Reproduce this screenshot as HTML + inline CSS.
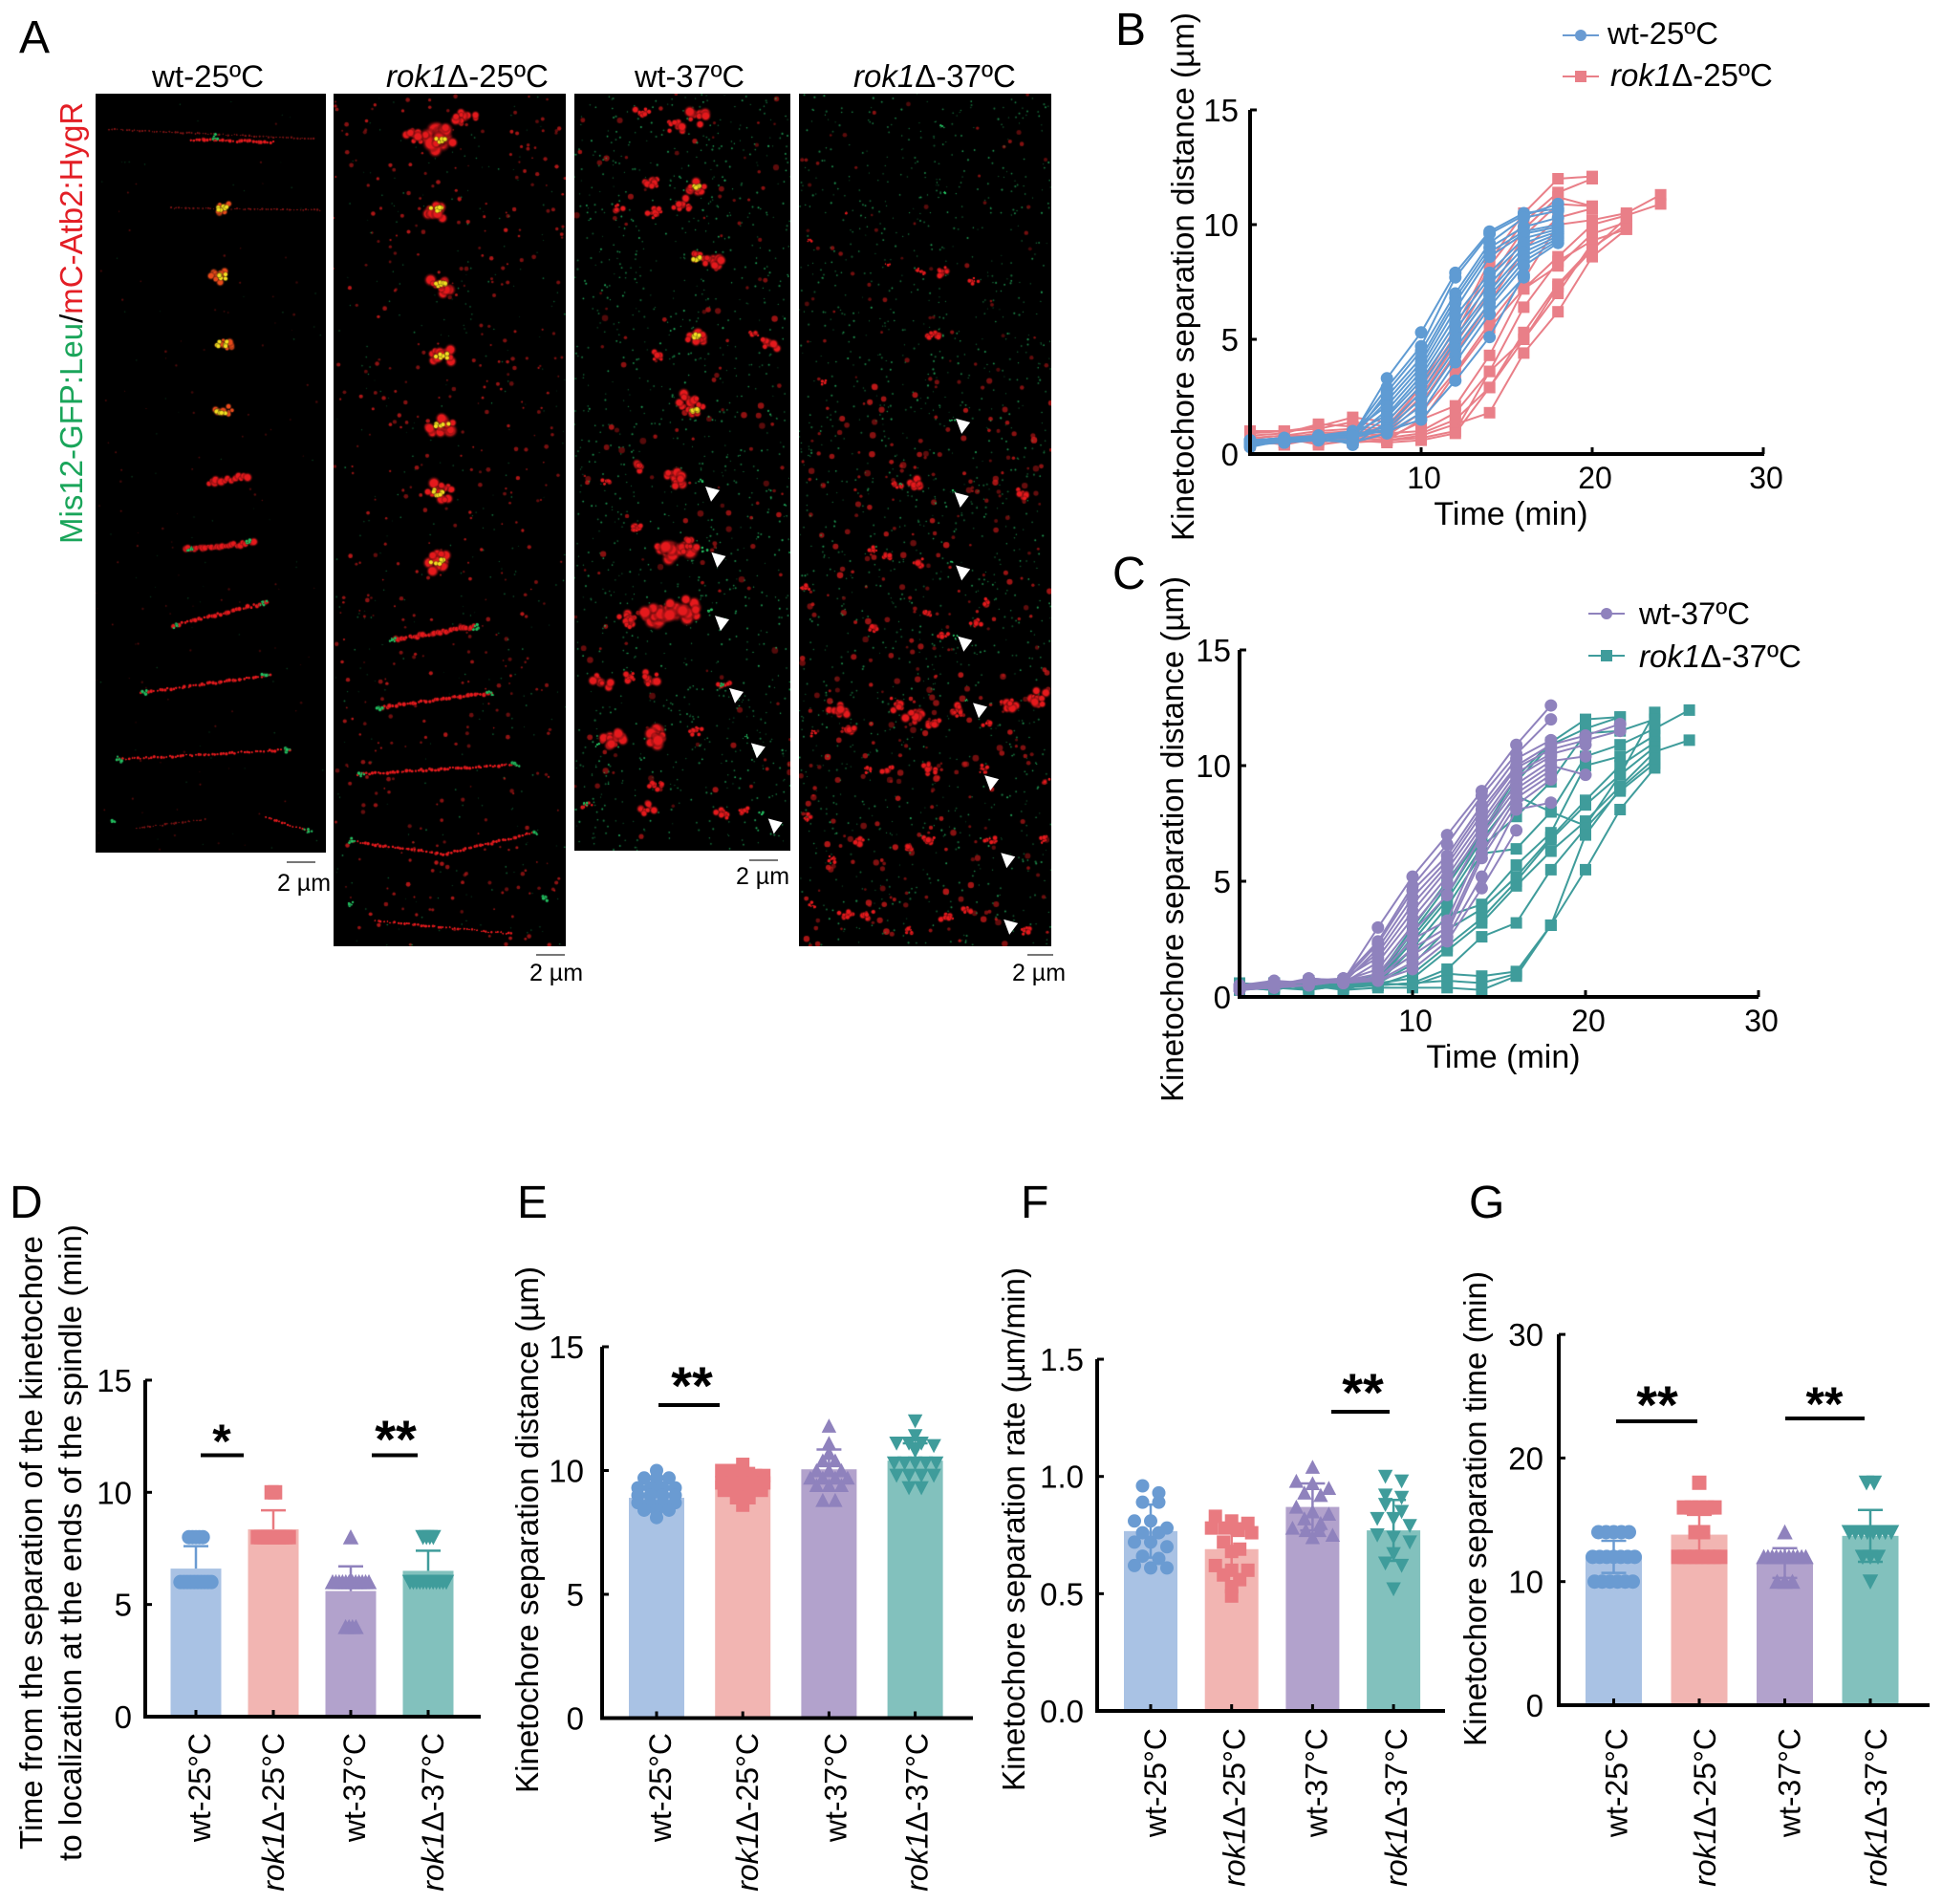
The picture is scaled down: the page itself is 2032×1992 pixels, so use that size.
<!DOCTYPE html>
<html lang="en">
<head>
<meta charset="utf-8">
<title>Kinetochore separation figure</title>
<style>
html,body{margin:0;padding:0;background:#fff;}
#figure{position:relative;width:2032px;height:1992px;overflow:hidden;background:#fff;font-family:"Liberation Sans",sans-serif;}
canvas{position:absolute;display:block;background:#000;}
#overlay{position:absolute;left:0;top:0;}
#overlay text{font-family:"Liberation Sans",sans-serif;fill:#000;}
.it{font-style:italic;}
</style>
</head>
<body>
<div id="figure">
<canvas id="img1" width="241" height="794" style="left:100px;top:98px"></canvas>
<canvas id="img2" width="243" height="892" style="left:349px;top:98px"></canvas>
<canvas id="img3" width="226" height="792" style="left:601px;top:98px"></canvas>
<canvas id="img4" width="264" height="892" style="left:836px;top:98px"></canvas>
<svg id="overlay" width="2032" height="1992" viewBox="0 0 2032 1992" xmlns="http://www.w3.org/2000/svg">
  <!-- panel letters -->
  <g font-size="48">
    <text x="20" y="55">A</text>
    <text x="1167" y="47">B</text>
    <text x="1164" y="616">C</text>
    <text x="10" y="1274">D</text>
    <text x="541" y="1274">E</text>
    <text x="1068" y="1274">F</text>
    <text x="1537" y="1274">G</text>
  </g>
  <!-- panel A titles -->
  <g font-size="32">
    <text x="159" y="91" textLength="117" lengthAdjust="spacingAndGlyphs">wt-25ºC</text>
    <text x="404" y="91" font-size="33"><tspan class="it">rok1</tspan>Δ-25ºC</text>
    <text x="664" y="91" textLength="115" lengthAdjust="spacingAndGlyphs">wt-37ºC</text>
    <text x="893" y="91" font-size="33"><tspan class="it">rok1</tspan>Δ-37ºC</text>
    <text transform="translate(86,569) rotate(-90)" font-size="33"><tspan style="fill:#1aa55a">Mis12-GFP:Leu</tspan><tspan style="fill:#000">/</tspan><tspan style="fill:#e31e25">mC-Atb2:HygR</tspan></text>
  </g>
  <!-- scale bars -->
  <g stroke="#777" stroke-width="2">
    <line x1="300" x2="330" y1="902" y2="902"/>
    <line x1="561" x2="591" y1="999" y2="999"/>
    <line x1="784" x2="814" y1="900" y2="900"/>
    <line x1="1075" x2="1102" y1="999" y2="999"/>
  </g>
  <g font-size="25" text-anchor="middle">
    <text x="318" y="932">2 µm</text>
    <text x="582" y="1026">2 µm</text>
    <text x="798" y="925">2 µm</text>
    <text x="1087" y="1026">2 µm</text>
  </g>
  <g id="arrowheads"></g>

  <!-- titles -->
  <g font-size="33">
    <text transform="translate(1249,566) rotate(-90)" textLength="553" lengthAdjust="spacingAndGlyphs">Kinetochore separation distance (µm)</text>
    <text x="1581" y="549" text-anchor="middle" font-size="34">Time (min)</text>
    <text transform="translate(1238,1153) rotate(-90)" textLength="550" lengthAdjust="spacingAndGlyphs">Kinetochore separation distance (µm)</text>
    <text x="1573" y="1117" text-anchor="middle" font-size="34">Time (min)</text>
    <text transform="translate(44,1935) rotate(-90)" textLength="642" lengthAdjust="spacingAndGlyphs">Time from the separation of the kinetochore</text>
    <text transform="translate(85,1947) rotate(-90)" textLength="666" lengthAdjust="spacingAndGlyphs">to localization at the ends of the spindle (min)</text>
    <text transform="translate(563,1876) rotate(-90)" textLength="551" lengthAdjust="spacingAndGlyphs">Kinetochore separation distance (µm)</text>
    <text transform="translate(1072,1874) rotate(-90)" textLength="548" lengthAdjust="spacingAndGlyphs">Kinetochore separation rate (µm/min)</text>
    <text transform="translate(1555,1827) rotate(-90)" textLength="497" lengthAdjust="spacingAndGlyphs">Kinetochore separation time (min)</text>
  </g>

  <!-- legends -->
  <g>
    <g>
      <line x1="1635" x2="1673" y1="37" y2="37" stroke="#6a9bd2" stroke-width="2"/><circle cx="1654" cy="37" r="6" fill="#6a9bd2"/>
      <text x="1682" y="46" font-size="32" textLength="116" lengthAdjust="spacingAndGlyphs">wt-25ºC</text>
    </g>
    <g>
      <line x1="1635" x2="1673" y1="80" y2="80" stroke="#e97f88" stroke-width="2"/><rect x="1648" y="74" width="12" height="12" fill="#e97f88"/>
      <text x="1685" y="90" font-size="33"><tspan class="it">rok1</tspan>Δ-25ºC</text>
    </g>
  </g>
  <g>
    <g>
      <line x1="1662" x2="1700" y1="642" y2="642" stroke="#8f82bd" stroke-width="2"/><circle cx="1681" cy="642" r="6" fill="#8f82bd"/>
      <text x="1715" y="653" font-size="32" textLength="116" lengthAdjust="spacingAndGlyphs">wt-37ºC</text>
    </g>
    <g>
      <line x1="1662" x2="1700" y1="686" y2="686" stroke="#3f9c9b" stroke-width="2"/><rect x="1675" y="680" width="12" height="12" fill="#3f9c9b"/>
      <text x="1715" y="698" font-size="33"><tspan class="it">rok1</tspan>Δ-37ºC</text>
    </g>
  </g>

  <!-- significance markers -->
  <g fill="#000">
    <rect x="210" y="1520.5" width="45" height="4"/>
    <rect x="389" y="1520.5" width="48" height="4"/>
    <rect x="689" y="1468" width="64" height="4"/>
    <rect x="1393" y="1475" width="61" height="4"/>
    <rect x="1691" y="1485" width="85" height="4"/>
    <rect x="1868" y="1482" width="83" height="4"/>
  </g>
  <g font-weight="bold" font-size="56" text-anchor="middle">
    <text x="232" y="1525" font-size="50">*</text>
    <text x="414" y="1525">**</text>
    <text x="724" y="1469">**</text>
    <text x="1426" y="1476">**</text>
    <text x="1734" y="1489">**</text>
    <text x="1909" y="1486" font-size="50">**</text>
  </g>
  <g id="charts"></g>
</svg>
</div>
<script>
/* ---------- chart data ---------- */
const timePoints = [0,2,4,6,8,10,12,14,16,18,20,22,24,26];
const timeTickLabels = [10,20,30];
const lineChartValueTicks = [0,5,10,15];

const wt25Traces = [
 [.5,.6,.7,.8,3.3,5.3,7.9,9.7,10.5,10.7],
 [.4,.6,.8,.9,2.9,4.7,7.7,9.6,10.4,10.9],
 [.6,.7,.7,.7,2.7,4.5,7.0,9.2,10.3,10.6],
 [.5,.5,.6,.9,2.5,4.2,6.8,9.0,9.9,10.3],
 [.4,.7,.7,.8,2.3,4.0,6.6,8.8,9.7,10.0],
 [.6,.6,.8,1.0,2.1,3.8,6.3,8.6,9.6,9.9],
 [.5,.5,.7,.7,1.9,3.6,6.0,7.9,9.4,9.8],
 [.3,.6,.7,.9,1.7,3.4,5.7,7.7,9.2,9.7],
 [.5,.7,.6,.6,1.6,3.2,5.4,7.4,9.0,9.6],
 [.6,.6,.8,.4,1.4,3.0,5.1,7.1,8.8,9.5],
 [.4,.5,.7,.8,1.2,2.7,4.9,6.9,8.6,9.4],
 [.5,.6,.7,.7,1.1,2.4,4.6,6.6,8.4,9.3],
 [.6,.7,.8,.9,1.0,2.1,4.3,6.4,8.2,9.2],
 [.4,.6,.6,.5,.9,1.8,4.0,6.1,7.7],
 [.5,.5,.7,.8,1.0,1.5,3.2,5.1,7.8]
];
const rok25Traces = [
 [1.0,1.0,1.2,1.6,1.4,3.0,5.5,8.4,10.5,12.0,12.1],
 [.9,1.0,1.1,1.4,1.2,2.9,5.2,8.2,10.1,11.4,12.0],
 [.8,.9,1.3,1.2,1.1,2.7,5.0,7.6,9.8,11.2,10.8],
 [.7,.8,1.0,1.1,1.0,2.5,4.8,7.0,9.5,10.9,10.8],
 [.6,.7,.9,1.0,.9,2.2,4.4,6.6,8.9,10.3,10.7],
 [.5,.6,.7,.9,.8,1.8,3.6,5.7,7.6,10.0,10.2,10.5,11.3],
 [.4,.5,.6,.8,.7,1.4,3.5,5.5,7.2,8.6,10.0,10.4,10.9],
 [.8,.4,.7,.7,.6,1.5,2.1,4.3,7.2,8.2,9.6,10.1],
 [.6,.7,.4,.6,.9,1.0,1.8,3.6,6.4,8.4,9.3,9.8],
 [.5,.5,.6,.8,.7,.9,1.5,2.9,5.3,7.4,9.0,10.0],
 [.7,.8,.8,.5,.6,.8,1.3,1.8,4.4,6.2,8.6,9.8],
 [.4,.6,.5,.7,.6,.7,1.0,3.6,5.0,7.0,9.2],
 [.6,.4,.9,.6,.5,.6,.9,2.9,5.0,7.3,8.9,10.3]
];
const wt37Traces = [
 [.4,.5,.8,.7,3.0,5.2,7.0,8.9,10.9,12.6],
 [.3,.6,.7,.8,2.4,4.8,6.6,8.7,10.5,12.0],
 [.5,.6,.6,.7,2.3,4.6,6.1,8.3,10.3,11.1],
 [.4,.4,.7,.6,2.1,4.3,5.9,8.1,10.0,10.9,11.3,11.8],
 [.3,.5,.5,.7,1.9,4.0,5.7,7.9,9.9,10.7,11.1,11.5],
 [.4,.6,.6,.8,1.7,3.7,5.5,7.6,9.7,10.5,10.9],
 [.5,.5,.7,.6,1.5,3.4,5.2,7.4,9.5,10.4],
 [.4,.4,.8,.7,1.2,3.1,4.9,7.2,9.2,10.2,10.4],
 [.3,.6,.6,.7,1.0,2.8,4.4,7.0,9.0,10.0,9.6],
 [.4,.5,.7,.6,.9,2.5,3.3,6.6,8.8,9.8],
 [.5,.7,.6,.8,.8,2.1,3.0,6.2,8.6,9.6],
 [.3,.4,.5,.7,.8,1.8,2.8,6.0,8.3,9.4],
 [.4,.5,.7,.6,.7,1.5,2.6,5.2,8.1,8.4],
 [.4,.6,.6,.7,.7,1.2,2.4,4.7,7.2]
];
const rok37Traces = [
 [.6,.5,.7,.7,.9,3.0,5.0,7.1,9.5,11.0,12.0,12.1],
 [.5,.6,.4,.5,.8,2.8,4.8,7.0,9.3,10.9,11.6,12.1],
 [.4,.3,.6,.7,.7,2.6,4.4,6.8,8.7,8.0,7.4,9.6,12.3],
 [.3,.5,.5,.3,.7,2.4,4.2,6.5,7.8,9.3,11.4,11.5,12.0],
 [.5,.4,.3,.5,.6,2.1,3.9,6.2,6.4,8.0,10.4,10.9,11.6,12.4],
 [.4,.6,.6,.6,.8,1.8,3.5,4.0,5.7,7.1,10.0,10.4,11.3],
 [.3,.4,.5,.4,.6,1.4,2.9,3.8,5.2,6.9,8.5,10.0,11.0],
 [.5,.5,.4,.6,.5,1.0,2.2,3.4,5.0,6.8,8.3,9.6,10.8],
 [.4,.3,.6,.5,.6,.8,2.0,3.2,4.8,6.3,7.6,9.1,10.6,11.1],
 [.3,.5,.4,.4,.5,.6,1.2,2.6,3.2,5.5,7.3,8.9,10.1],
 [.4,.4,.5,.6,.6,.5,1.0,.9,1.1,3.1,5.5,8.1,9.9],
 [.5,.6,.3,.5,.5,.6,.7,.6,1.0,3.1,7.0,9.0,10.3],
 [.4,.5,.6,.3,.4,.4,.4,.3,.9,3.1]
];

const dValueTicks = [0,5,10,15];
const eValueTicks = [0,5,10,15];
const fValueTicks = [0,0.5,1.0,1.5];
const gValueTicks = [0,10,20,30];
const categoryItalic = ['', 'rok1', '', 'rok1'];
const categoryPlain = ['wt-25°C', 'Δ-25°C', 'wt-37°C', 'Δ-37°C'];
const categoryKeys = ['wt-25c', 'rok1-25c', 'wt-37c', 'rok1-37c'];

const dMeans = [6.6,8.35,5.6,6.5];
const dUpper = [7.6,9.2,6.7,7.4];
const dWt25 = [8,8,8,8,8,6,6,6,6,6,6,6,6,6,6];
const dRok25 = [10,10,8,8,8,8,8,8,8,8,8,8];
const dWt37 = [8,6,6,6,6,6,6,6,6,6,6,6,6,4,4,4,4];
const dRok37 = [8,8,8,8,6,6,6,6,6,6,6,6,6,6,6,6];

const eMeans = [8.9,9.6,10.05,10.4];
const eUpper = [9.5,10.1,10.85,11.1];
const eWt25 = [10.0,9.7,9.7,9.7,9.3,9.3,9.3,9.3,9.0,9.0,9.0,9.0,8.7,8.7,8.7,8.7,8.4,8.4,8.4,8.1];
const eRok25 = [10.25,10.0,10.0,9.8,9.8,9.8,9.8,9.5,9.5,9.5,9.5,9.5,9.2,9.2,9.2,9.2,8.9,8.9,8.6];
const eWt37 = [11.8,11.1,10.7,10.4,10.4,10.0,10.0,10.0,9.7,9.7,9.7,9.7,9.4,9.4,9.4,8.8,8.8];
const eRok37 = [12.0,11.4,11.1,11.1,11.1,11.0,10.8,10.3,10.3,10.3,10.3,10.3,9.8,9.8,9.8,9.8,9.3,9.3];

const fMeans = [0.767,0.69,0.87,0.77];
const fUpper = [0.88,0.80,0.97,0.90];
const fWt25 = [.96,.93,.89,.89,.81,.81,.78,.76,.76,.72,.72,.70,.66,.65,.62,.61,.61];
const fRok25 = [.83,.81,.80,.78,.78,.77,.76,.72,.69,.68,.62,.60,.60,.58,.56,.53,.49];
const fWt37 = [1.04,.98,.97,.95,.93,.92,.87,.85,.84,.82,.80,.78,.77,.77,.75,.74];
const fRok37 = [1.0,.98,.92,.91,.88,.85,.82,.82,.79,.75,.74,.72,.67,.63,.62,.52];

const gMeans = [12.0,13.8,11.5,13.7];
const gUpper = [13.3,15.4,12.7,15.8];
const gWt25 = [14,14,14,14,14,12,12,12,12,12,12,12,10,10,10,10,10,10];
const gRok25 = [18,16,16,16,16,16,14,14,12,12,12,12,12,12,12,12];
const gWt37 = [14,12,12,12,12,12,12,12,12,12,12,12,10,10,10];
const gRok37 = [18,18,14,14,14,14,14,14,14,14,12,12,12,10];

/* ---------- drawing helpers ---------- */
const NS = 'http://www.w3.org/2000/svg';
const charts = document.getElementById('charts');
const categoryFills = ['#a9c2e4','#f2b5b2','#b2a2cc','#82c1bd'];
const categoryInks = ['#6a9bd2','#e97a80','#8f82bd','#3f9c9b'];
const categoryShapes = ['circle','square','triangle','down'];

function svgEl(tag, parent){
  const node = document.createElementNS(NS, tag);
  parent.appendChild(node);
  return node;
}
function setAll(node, attrs){
  for (const k in attrs) node.setAttribute(k, attrs[k]);
  return node;
}
function markerAt(parent, shape, x, y, size, color){
  let m;
  if (shape === 'circle'){
    m = setAll(svgEl('circle', parent), {cx:x, cy:y, r:size/2, fill:color});
  } else if (shape === 'square'){
    m = setAll(svgEl('rect', parent), {x:x-size/2, y:y-size/2, width:size, height:size, fill:color});
  } else if (shape === 'triangle'){
    m = setAll(svgEl('polygon', parent), {points:(x-size*.55)+','+(y+size*.5)+' '+(x+size*.55)+','+(y+size*.5)+' '+x+','+(y-size*.55), fill:color});
  } else {
    m = setAll(svgEl('polygon', parent), {points:(x-size*.55)+','+(y-size*.5)+' '+(x+size*.55)+','+(y-size*.5)+' '+x+','+(y+size*.55), fill:color});
  }
  return m;
}
function drawAxes(parent, key, o){
  const g = svgEl('g', parent);
  
  
  const yAxis = setAll(svgEl('line', g), {x1:o.x0, x2:o.x0, y1:o.top, y2:o.y0+2, stroke:'#000', 'stroke-width':4});
  
  
  const xAxis = setAll(svgEl('line', g), {x1:o.x0-2, x2:o.right, y1:o.y0, y2:o.y0, stroke:'#000', 'stroke-width':4});
  
  
  o.yTicks.forEach(function(v){
    const py = o.y(v);
    if (v !== 0) setAll(svgEl('line', g), {x1:o.x0, x2:o.x0+7, y1:py, y2:py, stroke:'#000', 'stroke-width':3});
    const t = setAll(svgEl('text', g), {x:o.labelRight, y:py+12, 'font-size':33, 'text-anchor':'end'});
    t.textContent = o.fmt ? o.fmt(v) : String(v);
    
    
  });
  return g;
}
function drawLineChart(key, o, layers){
  const root = svgEl('g', charts);
  
  
  layers.forEach(function(layer){
    const lg = svgEl('g', root);
    
    
    layer.traces.forEach(function(trace){
      const pts = trace.map(function(v,i){ return o.x(timePoints[i]) + ',' + o.y(v); }).join(' ');
      const pl = setAll(svgEl('polyline', lg), {points:pts, fill:'none', stroke:layer.color, 'stroke-width':2});
      
      
      trace.forEach(function(v,i){
        const m = markerAt(lg, layer.shape, o.x(timePoints[i]), o.y(v), layer.size, layer.color);
        
        
      });
    });
  });
  const ax = drawAxes(root, key, o);
  timeTickLabels.forEach(function(v){
    const px = o.x(v);
    setAll(svgEl('line', ax), {x1:px, x2:px, y1:o.y0, y2:o.y0-7, stroke:'#000', 'stroke-width':3});
    const t = setAll(svgEl('text', ax), {x:px+3, y:o.xLabelY, 'font-size':32, 'text-anchor':'middle'});
    t.textContent = String(v);
    
    
  });
}
function swarm(values, bin, step, maxSpan){
  const sorted = values.slice().sort(function(a,b){ return b-a; });
  const rows = [];
  sorted.forEach(function(v){
    const last = rows[rows.length-1];
    if (last && last[0]-v <= bin) last.push(v); else rows.push([v]);
  });
  const out = [];
  rows.forEach(function(r){
    const s = r.length > 1 ? Math.min(step, maxSpan/(r.length-1)) : 0;
    r.forEach(function(v,i){ out.push({v:v, dx:(i-(r.length-1)/2)*s}); });
  });
  return out;
}
function drawBarChart(key, o, means, upper, groups){
  const root = svgEl('g', charts);
  
  
  means.forEach(function(mean, i){
    const cx = o.first + i*o.step;
    const g = svgEl('g', root);
    
    
    const bar = setAll(svgEl('rect', g), {x:cx-o.barW/2, y:o.y(mean), width:o.barW, height:o.y0-o.y(mean), fill:categoryFills[i]});
    
    
    const low = o.showLower ? o.y(2*mean-upper[i]) : o.y(mean);
    const err = setAll(svgEl('line', g), {x1:cx, x2:cx, y1:low, y2:o.y(upper[i]), stroke:categoryInks[i], 'stroke-width':2.5});
    
    
    setAll(svgEl('line', g), {x1:cx-13, x2:cx+13, y1:o.y(upper[i]), y2:o.y(upper[i]), stroke:categoryInks[i], 'stroke-width':2.5});
    if (o.showLower) setAll(svgEl('line', g), {x1:cx-13, x2:cx+13, y1:low, y2:low, stroke:categoryInks[i], 'stroke-width':2.5});
    swarm(groups[i], o.bin, o.jitter, o.barW-o.size).forEach(function(p){
      const m = markerAt(g, categoryShapes[i], cx+p.dx, o.y(p.v), o.size, categoryInks[i]);
      
      
    });
  });
  const ax = drawAxes(root, key, o);
  means.forEach(function(mean, i){
    const cx = o.first + i*o.step;
    setAll(svgEl('line', ax), {x1:cx, x2:cx, y1:o.y0, y2:o.y0-7, stroke:'#000', 'stroke-width':3});
    const t = setAll(svgEl('text', ax), {transform:'translate('+(cx+o.labelDx[i]+11)+','+o.labelTop+') rotate(-90)', 'font-size':32, 'text-anchor':'end'});
    if (categoryItalic[i]){
      const ts = svgEl('tspan', t);
      ts.setAttribute('class', 'it');
      ts.textContent = categoryItalic[i];
    }
    const ps = svgEl('tspan', t);
    ps.textContent = categoryPlain[i];
    
    
  });
}

/* ---------- charts ---------- */
drawLineChart('b', {
  x:function(t){ return 1308 + t*17.9; }, y:function(v){ return 475 - v*24; },
  x0:1308, y0:475, top:115, right:1846, yTicks:lineChartValueTicks, labelRight:1296, xLabelY:511
}, [
  {name:'rok1-25c', traces:rok25Traces, color:'#e97f88', shape:'square', size:12},
  {name:'wt-25c', traces:wt25Traces, color:'#5f9bd3', shape:'circle', size:13}
]);
drawLineChart('c', {
  x:function(t){ return 1297 + t*18.1; }, y:function(v){ return 1043 - v*24.2; },
  x0:1297, y0:1043, top:680, right:1840, yTicks:lineChartValueTicks, labelRight:1288, xLabelY:1079
}, [
  {name:'rok1-37c', traces:rok37Traces, color:'#3f9c9b', shape:'square', size:12},
  {name:'wt-37c', traces:wt37Traces, color:'#8f82bd', shape:'circle', size:13}
]);
drawBarChart('d', {
  y:function(v){ return 1796 - v*23.47; }, x0:152, y0:1796, top:1444, right:503, yTicks:dValueTicks, labelRight:138,
  first:205, step:81, barW:53, bin:.3, jitter:3.6, size:15, labelTop:1813, labelDx:[4,0,4,5], showLower:false
}, dMeans, dUpper, [dWt25, dRok25, dWt37, dRok37]);
drawBarChart('e', {
  y:function(v){ return 1797.5 - v*25.9; }, x0:630, y0:1797.5, top:1409, right:1018, yTicks:eValueTicks, labelRight:611,
  first:687, step:90.2, barW:58, bin:.2, jitter:13, size:14, labelTop:1813, labelDx:[4,5,7,2], showLower:false
}, eMeans, eUpper, [eWt25, eRok25, eWt37, eRok37]);
drawBarChart('f', {
  y:function(v){ return 1790 - v*245.3; }, x0:1148, y0:1790, top:1422, right:1512, yTicks:fValueTicks, labelRight:1134, fmt:function(v){ return v.toFixed(1); },
  first:1204, step:84.7, barW:56, bin:.035, jitter:17, size:14, labelTop:1808, labelDx:[5,3,4,3], showLower:true
}, fMeans, fUpper, [fWt25, fRok25, fWt37, fRok37]);
drawBarChart('g', {
  y:function(v){ return 1784 - v*12.93; }, x0:1631, y0:1784, top:1396, right:2019, yTicks:gValueTicks, labelRight:1615,
  first:1688.5, step:89.5, barW:59, bin:.3, jitter:8, size:15, labelTop:1808, labelDx:[3,6,5,6], showLower:true
}, gMeans, gUpper, [gWt25, gRok25, gWt37, gRok37]);

/* ---------- panel A micrographs (image texture, not chart data) ---------- */
const sx = 1/1.4, sy = 1/1.479;
let seed = 12345;
function rnd(){ seed = (Math.imul(seed,1664525)+1013904223)>>>0; return seed/4294967296; }
function speckle(ctx,n,x0,y0,w,h,rMin,rMax,color,alpha){
  ctx.fillStyle = color;
  for (let i=0;i<n;i++){
    ctx.globalAlpha = alpha*(.5+.5*rnd());
    ctx.beginPath();
    ctx.arc(x0+rnd()*w, y0+rnd()*h, rMin+rnd()*(rMax-rMin), 0, 6.3);
    ctx.fill();
  }
  ctx.globalAlpha = 1;
}
function softDot(ctx,x,y,r,color){
  const g = ctx.createRadialGradient(x,y,0,x,y,r);
  g.addColorStop(0,color); g.addColorStop(.5,color); g.addColorStop(1,'rgba(0,0,0,0)');
  ctx.fillStyle = g;
  ctx.fillRect(x-r,y-r,2*r,2*r);
}
/* lumpy irregular blob built from jittered sub-dots */
function blob(ctx,x,y,r,color){
  const n = Math.max(4, Math.round(r*1.1));
  for (let i=0;i<n;i++){
    const a = rnd()*6.28, d = rnd()*r*.85;
    softDot(ctx, x+Math.cos(a)*d*1.15, y+Math.sin(a)*d*.8, r*(.25+rnd()*.3), color);
  }
}
function lumpyLine(ctx,l){
  const x1=l[0]*sx, y1=l[1]*sy, x2=l[2]*sx, y2=l[3]*sy;
  const len = Math.hypot(x2-x1,y2-y1), n = Math.max(4,Math.round(len/3));
  for (let i=0;i<=n;i++){
    const t = i/n;
    softDot(ctx, x1+(x2-x1)*t+(rnd()-.5)*2, y1+(y2-y1)*t+(rnd()-.5)*l[4]*.6, l[4]*(.45+rnd()*.45), l[5]);
  }
}
function spindle(ctx,l){ lumpyLine(ctx,l); }
const RED='#e5191c', GRN='#22c060', YEL='#f4e020', DIM='#7a1212';
function paint(id,left,top,w,h,fn){
  const canvas = document.getElementById(id);
  const c = canvas.getContext('2d');
  c.fillStyle='#000'; c.fillRect(0,0,w,h);
  c.save();
  c.translate(-left,-top);
  fn(c,left,top,w,h);
  c.restore();
}
function blobs(c,list,r,color){
  list.forEach(function(b){ blob(c,b[0]*sx,b[1]*sy,b[2]||r,color); });
}
function yellows(c,list,spread){
  list.forEach(function(b){
    const x=b[0]*sx, y=b[1]*sy;
    for (let i=0;i<7;i++) softDot(c, x+(rnd()-.5)*spread, y+(rnd()-.5)*spread*.45, 3.2, YEL);
  });
}
paint('img1',100,98,241,794,function(c,l,t,w,h){
  speckle(c,110,l,t,w,h,.5,1.3,'#8a1212',.7);
  speckle(c,70,l,t,w,h,.4,.8,'#15803f',.6);
  [[160,200,460,215,2,DIM],[250,322,470,325,2,DIM],[280,216,400,220,3.5,RED],
   [305,747,362,737,7,RED],[272,850,372,840,6,RED],[255,968,392,932,4,RED],[205,1072,395,1045,3.2,RED],
   [172,1175,425,1160,2.8,RED],[200,1282,300,1268,2.2,DIM],[390,1265,450,1285,2.5,RED]].forEach(function(s){spindle(c,s);});
  blobs(c,[[325,322],[322,428],[328,532],[328,637]],10,'#e84a1a');
  yellows(c,[[325,322],[322,428],[326,532],[325,637]],12);
  blobs(c,[[315,212],[280,850],[365,840],[258,968],[385,932],[212,1072],[390,1045],[175,1175],[420,1160],[165,1272],[452,1285]],5,GRN);
});
paint('img2',349,98,243,892,function(c,l,t,w,h){
  speckle(c,460,l,t,w,h,.8,2.4,'#d81c1c',.85);
  speckle(c,320,l,t,w,h,.4,.9,'#1aa858',.8);
  blobs(c,[[645,215,20],[640,325,14],[645,440,15],[648,550,14],[648,660,16],[642,762,15],[640,870,15],[680,180,13],[610,210,12]],0,RED);
  yellows(c,[[645,215],[640,325],[645,440],[648,550],[648,660],[642,762],[640,870]],14);
  [[575,990,695,970,5,RED],[555,1095,720,1072,4,RED],[525,1198,755,1183,3.2,RED],[515,1302,650,1322,3,RED],[650,1322,785,1288,3,RED],[550,1425,750,1445,2.5,RED]].forEach(function(s){spindle(c,s);});
  blobs(c,[[575,990],[695,970],[555,1095],[720,1072],[527,1198],[755,1183],[515,1302],[783,1288],[513,1400],[800,1390]],5,GRN);
});
paint('img3',601,98,226,792,function(c,l,t,w,h){
  speckle(c,140,l,t,w,h,1.2,3.4,'#cc1818',.8);
  speckle(c,1200,l,t,w,h,.5,1.1,'#22b862',.9);
  blobs(c,[[1020,180,13],[940,175,9],[990,195,11],[1020,290,13],[1000,315,12],[955,280,10],[960,330,10],[905,325,8],[1020,400,9],[1045,405,12],
    [1020,520,13],[965,550,9],[1130,530,11],[1105,515,7],[1010,620,13],[1020,635,10],[990,742,14],[935,720,10],[890,745,7],[985,850,20],[1010,845,11],[930,815,9],[960,950,18],[1000,945,18],
    [920,960,12],[950,1050,12],[880,1055,12],[1060,1060,8],[920,1048,9],[960,1140,16],[900,1145,14],[1020,1130,8],[950,1250,10],[1060,1260,9],[960,1215,8],[1090,1255,7],[860,1248,6]],0,RED);
  yellows(c,[[1022,290],[1020,400],[1020,520],[1018,635]],8);
  blobs(c,[[1028,745],[1032,850],[1040,945],[1058,1060],[1095,1140],[875,1152],[1115,1260],[860,1245]],4,GRN);
});
paint('img4',836,98,264,892,function(c,l,t,w,h){
  speckle(c,60,l,t,w,310,1.1,2.6,'#c41818',.7);
  speckle(c,340,l,t+300,w,h-300,1.2,3.4,'#cf1a1a',.85);
  speckle(c,1400,l,t,w,h,.5,1.1,'#22ad5c',.9);
  blobs(c,[[1380,420,9],[1425,435,6],[1350,420,6],[1365,520,8],[1240,330,4],[1185,372,4],[1205,590,5],[1300,410,4],
    [1345,750,11],[1310,750,8],[1495,765,9],[1280,850,6],[1345,870,9],[1300,860,7],[1180,910,6],[1360,950,7],[1445,930,6],[1280,970,8],[1380,985,8],[1430,965,7],
    [1230,1100,13],[1310,1090,10],[1340,1110,12],[1400,1100,10],[1480,1090,11],[1520,1080,12],[1245,1130,9],[1370,1120,10],[1190,1135,5],[1450,1120,8],
    [1300,1192,8],[1360,1190,9],[1270,1190,6],[1440,1190,6],[1530,1210,7],[1185,1265,6],[1260,1300,9],[1330,1310,8],[1360,1300,8],[1530,1300,6],[1450,1300,7],[1220,1330,6],
    [1240,1415,9],[1270,1415,8],[1385,1420,8],[1420,1410,8],[1330,1440,6],[1500,1440,7],[1190,1400,5]],0,RED);
  blobs(c,[[1380,195],[1383,298],[1320,748],[1395,650],[1395,760],[1395,870],[1400,985],[1415,1085]],3,GRN);
});

const arrowheadXs = [1043,1052,1057,1078,1110,1135,1410,1408,1410,1413,1435,1452,1476,1480];
const arrowheadYs = [763,865,963,1075,1160,1277,658,772,885,995,1098,1210,1330,1433];
const arrowGroup = document.getElementById('arrowheads');
arrowheadXs.forEach(function(x,i){
  const ax = x*sx, ay = arrowheadYs[i]*sy;
  const tri = svgEl('polygon', arrowGroup);
  tri.setAttribute('points', (ax-7)+','+(ay-7)+' '+(ax+8)+','+(ay-3)+' '+(ax-1)+','+(ay+9));
  tri.setAttribute('fill', '#fff');
  
  
});
</script>
</body>
</html>
